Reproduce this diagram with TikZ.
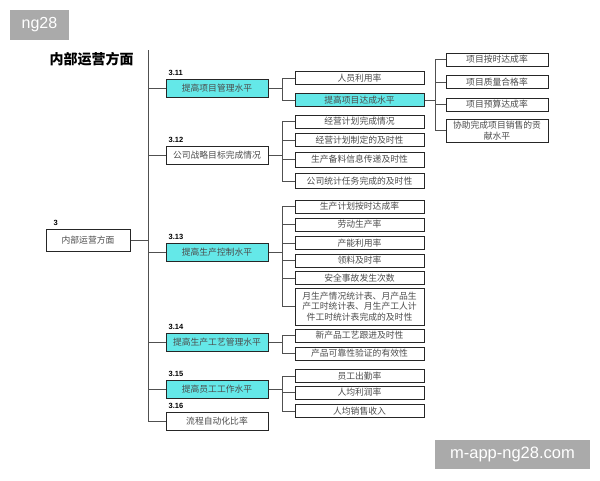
\documentclass[tikz,border=0pt]{standalone}
\usepackage{fontspec}
\setmainfont{Liberation Sans}
\newfontfamily\cjk{Noto Sans CJK SC}
\definecolor{cyanbox}{RGB}{100,232,232}
\definecolor{wmgray}{RGB}{170,170,170}
\definecolor{linegray}{RGB}{80,80,80}
\tikzset{
  box/.style={draw=black!85, line width=1pt, fill=white, inner sep=0pt, align=center,
    font=\cjk\fontsize{8.8}{10.5}\selectfont, text=black!70},
  lone/.style={box, minimum width=102pt, minimum height=18pt},
  ltwo/.style={box, minimum width=129pt, minimum height=13pt},
  lthree/.style={box, minimum width=102pt, minimum height=13pt},
  hi/.style={fill=cyanbox},
  num/.style={font=\bfseries\fontsize{7.5}{8}\selectfont, inner sep=0pt, anchor=south west},
  conn/.style={draw=linegray, line width=0.9pt},
  wm/.style={fill=wmgray, text=white, inner sep=0pt}
}
\begin{document}
\begin{tikzpicture}[x=1pt,y=-1pt]
\useasboundingbox (0,0) rectangle (600,480);
% watermarks
\node[wm, minimum width=59pt, minimum height=30pt, font=\fontsize{16}{18}\selectfont] (wm1) at (39.5,25) {ng28};
\node[wm, minimum width=155pt, minimum height=29pt, font=\fontsize{16.5}{18}\selectfont] (wm2) at (512.5,454.5) {m-app-ng28.com};
% title
\node[font=\cjk\bfseries\fontsize{14}{16}\selectfont, inner sep=0pt] (title) at (91.5,59) {内部运营方面};
% root
\node[box, minimum width=84pt, minimum height=22pt] (root) at (88,240) {内部运营方面};
\node[num] (n3) at ([xshift=8pt,yshift=3pt]root.north west) {3};
% level 1
\node[lone, hi] (b311) at (217,88.5) {提高项目管理水平};
\node[lone] (b312) at (217,155.5) {公司战略目标完成情况};
\node[lone, hi] (b313) at (217,252) {提高生产控制水平};
\node[lone, hi] (b314) at (217,342) {提高生产工艺管理水平};
\node[lone, hi] (b315) at (217,389) {提高员工工作水平};
\node[lone] (b316) at (217,421.5) {流程自动化比率};
\foreach \b/\t in {b311/3.11,b312/3.12,b313/3.13,b314/3.14,b315/3.15,b316/3.16}
  \node[num] at ([xshift=3pt,yshift=3pt]\b.north west) {\t};
% level 2
\node[ltwo] (c1) at (359.5,78) {人员利用率};
\node[ltwo, hi] (c2) at (359.5,100) {提高项目达成水平};
\node[ltwo] (c3) at (359.5,121.5) {经营计划完成情况};
\node[ltwo] (c4) at (359.5,140) {经营计划制定的及时性};
\node[ltwo, minimum height=15pt] (c5) at (359.5,159.5) {生产备料信息传递及时性};
\node[ltwo, minimum height=15pt] (c6) at (359.5,181) {公司统计任务完成的及时性};
\node[ltwo] (d1) at (359.5,206.5) {生产计划按时达成率};
\node[ltwo] (d2) at (359.5,224.5) {劳动生产率};
\node[ltwo] (d3) at (359.5,243) {产能利用率};
\node[ltwo] (d4) at (359.5,260.5) {领料及时率};
\node[ltwo] (d5) at (359.5,278) {安全事故发生次数};
\node[ltwo, minimum height=37pt] (d6) at (359.5,306.5) {月生产情况统计表、月产品生\\产工时统计表、月生产工人计\\件工时统计表完成的及时性};
\node[ltwo] (e1) at (359.5,335.5) {新产品工艺跟进及时性};
\node[ltwo] (e2) at (359.5,353.5) {产品可靠性验证的有效性};
\node[ltwo] (g1) at (359.5,376) {员工出勤率};
\node[ltwo] (g2) at (359.5,392.5) {人均利润率};
\node[ltwo] (g3) at (359.5,411) {人均销售收入};
% level 3
\node[lthree] (h1) at (497,59.5) {项目按时达成率};
\node[lthree] (h2) at (497,82) {项目质量合格率};
\node[lthree] (h3) at (497,104.5) {项目预算达成率};
\node[lthree, minimum height=23pt] (h4) at (497,130.5) {协助完成项目销售的贡\\献水平};
% trunk
\coordinate (ttop) at (148,50);
\coordinate (tbot) at (148,421.5);
\coordinate (fk) at (282,0);
\coordinate (fk3) at (435,0);
\draw[conn] (ttop) -- (tbot);
\draw[conn] (root.east) -- (ttop |- root.east);
\foreach \b in {b311,b312,b313,b314,b315,b316}
  \draw[conn] (ttop |- \b.west) -- (\b.west);
% forks
\draw[conn] (b311.east) -- (fk |- b311.east);
\draw[conn] (fk |- c1.west) -- (fk |- c2.west);
\foreach \c in {c1,c2} \draw[conn] (fk |- \c.west) -- (\c.west);
\draw[conn] (b312.east) -- (fk |- b312.east);
\draw[conn] (fk |- c3.west) -- (fk |- c6.west);
\foreach \c in {c3,c4,c5,c6} \draw[conn] (fk |- \c.west) -- (\c.west);
\draw[conn] (b313.east) -- (fk |- b313.east);
\draw[conn] (fk |- d1.west) -- (fk |- d6.west);
\foreach \c in {d1,d2,d3,d4,d5,d6} \draw[conn] (fk |- \c.west) -- (\c.west);
\draw[conn] (b314.east) -- (fk |- b314.east);
\draw[conn] (fk |- e1.west) -- (fk |- e2.west);
\foreach \c in {e1,e2} \draw[conn] (fk |- \c.west) -- (\c.west);
\draw[conn] (b315.east) -- (fk |- b315.east);
\draw[conn] (fk |- g1.west) -- (fk |- g3.west);
\foreach \c in {g1,g2,g3} \draw[conn] (fk |- \c.west) -- (\c.west);
\draw[conn] (c2.east) -- (fk3 |- c2.east);
\draw[conn] (fk3 |- h1.west) -- (fk3 |- h4.west);
\foreach \c in {h1,h2,h3,h4} \draw[conn] (fk3 |- \c.west) -- (\c.west);
\end{tikzpicture}
\end{document}
